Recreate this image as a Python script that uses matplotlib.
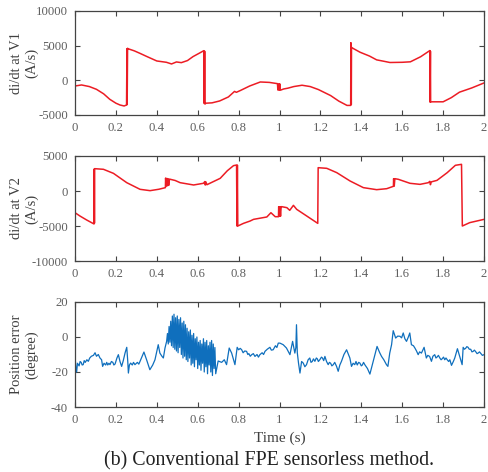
import numpy as np
import matplotlib
matplotlib.use('Agg')
import matplotlib.pyplot as plt
from matplotlib.ticker import FormatStrFormatter

plt.rcParams['font.family'] = ['Liberation Serif', 'DejaVu Serif']
plt.rcParams['axes.unicode_minus'] = False

# di/dt at V1 (time s, A/s)
v1_t = [0, 0.032, 0.07, 0.105, 0.14, 0.17, 0.2, 0.22, 0.24, 0.252, 0.254, 0.255, 0.257, 0.26,
        0.29, 0.317, 0.35, 0.4, 0.447, 0.472, 0.496, 0.52, 0.55, 0.577, 0.61, 0.63, 0.632, 0.634,
        0.636, 0.64, 0.67, 0.707, 0.75, 0.78, 0.789, 0.81, 0.854, 0.906, 0.95, 0.99, 0.992, 0.995,
        0.998, 1.001, 1.004, 1.02, 1.04, 1.07, 1.11, 1.15, 1.19, 1.25, 1.29, 1.33, 1.348, 1.349,
        1.351, 1.352, 1.36, 1.394, 1.44, 1.475, 1.51, 1.54, 1.60, 1.64, 1.69, 1.735, 1.736, 1.738,
        1.739, 1.745, 1.8, 1.84, 1.88, 1.94, 2.0]
v1_val = [-820, -670, -900, -1300, -1950, -2740, -3300, -3560, -3700, -3560, 4550, -3500, 4620, 4550,
          4250, 3900, 3450, 2790, 2600, 2360, 2650, 2550, 2850, 3420, 3950, 4280, -3350, 4200,
          -3420, -3300, -3250, -2980, -2400, -1600, -1730, -1450, -820, -240, -300, -480, -1400, -520,
          -1420, -500, -1430, -1250, -1140, -900, -710, -900, -1330, -2200, -3000, -3620, -3620, 5430,
          -3500, 4760, 4600, 4050, 3500, 2950, 2750, 2570, 2600, 2670, 3400, 4290, -3140, 4200,
          -3140, -3100, -3100, -2500, -1710, -1100, -380]

# di/dt at V2 (time s, A/s)
v2_t = [0, 0.024, 0.057, 0.093, 0.094, 0.095, 0.096, 0.139, 0.188, 0.253, 0.318, 0.367, 0.41,
        0.442, 0.443, 0.446, 0.449, 0.452, 0.455, 0.458, 0.462, 0.49, 0.514, 0.58, 0.628, 0.635,
        0.637, 0.64, 0.645, 0.71, 0.745, 0.775, 0.79, 0.792, 0.794, 0.796, 0.824, 0.856, 0.873,
        0.938, 0.958, 0.979, 0.995, 0.996, 0.999, 1.002, 1.005, 1.008, 1.011, 1.036, 1.05, 1.068,
        1.084, 1.133, 1.187, 1.189, 1.231, 1.28, 1.345, 1.41, 1.475, 1.524, 1.557, 1.558, 1.561,
        1.564, 1.581, 1.638, 1.687, 1.728, 1.735, 1.738, 1.742, 1.77, 1.82, 1.86, 1.89, 1.894,
        1.93, 2.0]
v2_val = [-3100, -3570, -4140, -4710, 3150, -4600, 3190, 3100, 2520, 1190, 240, 50, 250,
          480, 1850, 700, 1800, 750, 1750, 800, 1700, 1500, 1190, 860, 1100, 1350,
          850, 1300, 900, 1810, 2900, 3620, 3710, -5000, 3700, -5000, -4620, -4290, -4050,
          -3710, -3100, -3670, -3670, -2240, -3600, -2250, -3600, -2250, -2240, -2380, -2760, -2050,
          -2620, -3570, -4620, 3330, 3240, 2620, 1430, 480, 190, 330, 670, 1760, 700,
          1760, 1670, 1100, 950, 1190, 1380, 900, 1300, 1520, 2620, 3670, 3810, -5000,
          -4520, -4050]

# position error (time s, degree)
err_t_a = [0, 0.004, 0.008, 0.012, 0.02, 0.025, 0.03, 0.035, 0.04, 0.045, 0.05, 0.058, 0.065,
           0.072, 0.08, 0.09, 0.098, 0.105, 0.114, 0.122, 0.13, 0.135, 0.142, 0.15, 0.155, 0.16,
           0.166, 0.171, 0.178, 0.185, 0.19, 0.196, 0.205, 0.212, 0.22, 0.228, 0.236, 0.245,
           0.253, 0.258, 0.261, 0.266, 0.272, 0.28, 0.286, 0.293, 0.3, 0.305, 0.312, 0.318,
           0.337, 0.35, 0.366, 0.38, 0.391, 0.40, 0.407, 0.415, 0.425, 0.432, 0.44, 0.448]
err_v_a = [-11, -17, -20, -15, -16.5, -14, -14.5, -16, -15.8, -13.5, -14.5, -13, -13.9,
           -12, -11, -10.5, -9, -11, -10, -12, -13, -16.8, -15, -16, -14.5, -16,
           -15, -15.8, -14, -14.5, -16, -15.4, -12, -10.1, -14, -16.8, -13.5, -9,
           -5.9, -14, -20.6, -16, -14.9, -16, -14.5, -15.8, -15, -14.5, -15.5, -13.9,
           -8.6, -13, -18.7, -16, -13, -8, -4.4, -9.2, -11, -12, -6.3, -2.5]
# oscillating burst, 0.452 s to 0.688 s
err_burst = [2, -4, 6, -3, 9, -5, 12, -6,
             13, -7, 11, -8, 12, -9, 10, -6,
             11, -10, 8, -12, 9, -11, 7, -13,
             5, -14, 3, -12, 4, -16, 1, -15,
             2, -17, -1, -13, 0, -18, -3, -16,
             -2, -19, -4, -15, -1, -20, -3, -17,
             -2, -21, -5, -16, -3, -20, -2, -22,
             -4, -18, -6, -21]
err_t_b = [0.70, 0.717, 0.73, 0.741, 0.754, 0.766, 0.775, 0.782, 0.793, 0.80, 0.808, 0.815, 0.822,
           0.83, 0.839, 0.845, 0.85, 0.857, 0.864, 0.872, 0.88, 0.89, 0.897, 0.904, 0.915, 0.922,
           0.929, 0.94, 0.953, 0.96, 0.969, 0.98, 0.987, 0.994, 1.002, 1.018, 1.034, 1.051, 1.064,
           1.075, 1.080, 1.083, 1.087, 1.093, 1.1, 1.108, 1.116, 1.124, 1.132, 1.14, 1.148, 1.154,
           1.16, 1.166, 1.173, 1.18, 1.185, 1.19, 1.197, 1.205, 1.21, 1.216, 1.222, 1.23, 1.238,
           1.244, 1.25, 1.256, 1.263, 1.27, 1.279, 1.287, 1.295, 1.303, 1.315, 1.328, 1.344,
           1.352, 1.36, 1.368, 1.374, 1.38, 1.387, 1.393, 1.4, 1.405, 1.411, 1.417, 1.43, 1.442,
           1.458, 1.477, 1.49, 1.499, 1.51, 1.523, 1.53, 1.539, 1.548, 1.556, 1.568, 1.578,
           1.589, 1.597, 1.605, 1.613, 1.621, 1.63, 1.637, 1.645, 1.655, 1.662, 1.67, 1.678,
           1.685, 1.694, 1.707, 1.718, 1.725, 1.734, 1.743, 1.75, 1.759, 1.765, 1.77, 1.777,
           1.784, 1.79, 1.795, 1.802, 1.808, 1.814, 1.82, 1.827, 1.833, 1.841, 1.85, 1.857,
           1.87, 1.881, 1.893, 1.898, 1.904, 1.91, 1.916, 1.922, 1.928, 1.935, 1.941, 1.947,
           1.953, 1.96, 1.966, 1.971, 1.978, 1.985, 1.992, 2.0]
err_v_b = [-13.7, -14.5, -13, -15.8, -6.3, -9.2, -13, -15.8, -5.9, -7.3, -6.5, -7.3, -9,
           -8, -8.2, -10, -9.5, -11, -10.1, -9.5, -11.1, -10, -11.5, -10.1, -9, -10,
           -8.2, -7, -5.9, -7.5, -7.3, -5, -6, -3.5, -3.5, -4.4, -6.3, -10.1, -2.5,
           -9.2, -6, 7.0, -9, -15, -20.6, -14, -14.9, -17, -15.8, -13, -12, -14.5,
           -14, -12.5, -13.9, -12, -12.5, -14, -13, -11.5, -12, -13.5, -11.1, -14, -15.8,
           -14.5, -15, -16.5, -15.8, -14.5, -16.8, -19.6, -16, -13.9, -10, -7.3, -12,
           -16.8, -15, -15.8, -14, -16, -14.5, -14.9, -16.5, -16, -14.5, -15.8, -18, -21.2,
           -13.9, -5.4, -9, -11.1, -13, -15.8, -16.8, -9.2, -4.4, 3.6, -0.6, 0.5,
           0.4, -0.5, 2.3, -1, -2.5, 0, 2.3, -4.4, -5, -6.3, -8, -10.1,
           -8.5, -9.2, -5.9, -12, -10.5, -11.1, -13.9, -11, -10.1, -12, -11.5, -10.5,
           -12, -13, -12.5, -11.5, -13, -12, -13, -14, -13, -16.2, -14, -12,
           -6.7, -11.1, -15.8, -5.9, -7, -6.5, -5.5, -5.9, -7, -7, -8.5, -8.2,
           -7.5, -8.5, -9.5, -9.2, -8.5, -9.5, -10.5, -10.1]

err_t = np.concatenate([err_t_a, np.linspace(0.452, 0.688, len(err_burst)), err_t_b])
err_v = np.concatenate([err_v_a, err_burst, err_v_b])

red = '#ec1c24'
blue = '#0f6fbd'
tick_col = '#606060'
label_col = '#404040'

fig = plt.figure(figsize=(4.89, 4.72), dpi=100)
axes = [fig.add_axes([0.1534, 0.7564, 0.8364, 0.2203]),
        fig.add_axes([0.1534, 0.447, 0.8364, 0.2225]),
        fig.add_axes([0.1534, 0.1377, 0.8364, 0.2225])]

axes[0].plot(v1_t, v1_val, color=red, lw=1.1)
axes[0].set_ylim(-5000, 10000)
axes[0].set_yticks([-5000, 0, 5000, 10000])
axes[0].set_ylabel('di/dt at V1\n(A/s)')

axes[1].plot(v2_t, v2_val, color=red, lw=1.1)
axes[1].set_ylim(-10000, 5000)
axes[1].set_yticks([-10000, -5000, 0, 5000])
axes[1].set_ylabel('di/dt at V2\n(A/s)')

axes[2].plot(err_t, err_v, color=blue, lw=0.9)
axes[2].set_ylim(-40, 20)
axes[2].set_yticks([-40, -20, 0, 20])
axes[2].set_ylabel('Position error\n(degree)')
axes[2].set_xlabel('Time (s)', fontsize=11, color=label_col, labelpad=4)

for ax in axes:
    ax.set_xlim(0, 2)
    ax.set_xticks(np.arange(0, 2.01, 0.2))
    ax.xaxis.set_major_formatter(FormatStrFormatter('%g'))
    ax.tick_params(direction='in', top=True, right=True, length=3.5, width=0.8,
                   labelsize=9.2, labelcolor=tick_col, color='#444444', pad=5)
    for s in ax.spines.values():
        s.set_color('#444444')
        s.set_linewidth(0.9)
    ax.yaxis.label.set_size(10.5)
    ax.yaxis.label.set_color(label_col)
    ax.yaxis.set_label_coords(-0.09, 0.5)

fig.text(0.551, 0.024, '(b) Conventional FPE sensorless method.', ha='center', va='center',
         fontsize=14.3, color='#222222')

fig.savefig('out.png', dpi=100)
